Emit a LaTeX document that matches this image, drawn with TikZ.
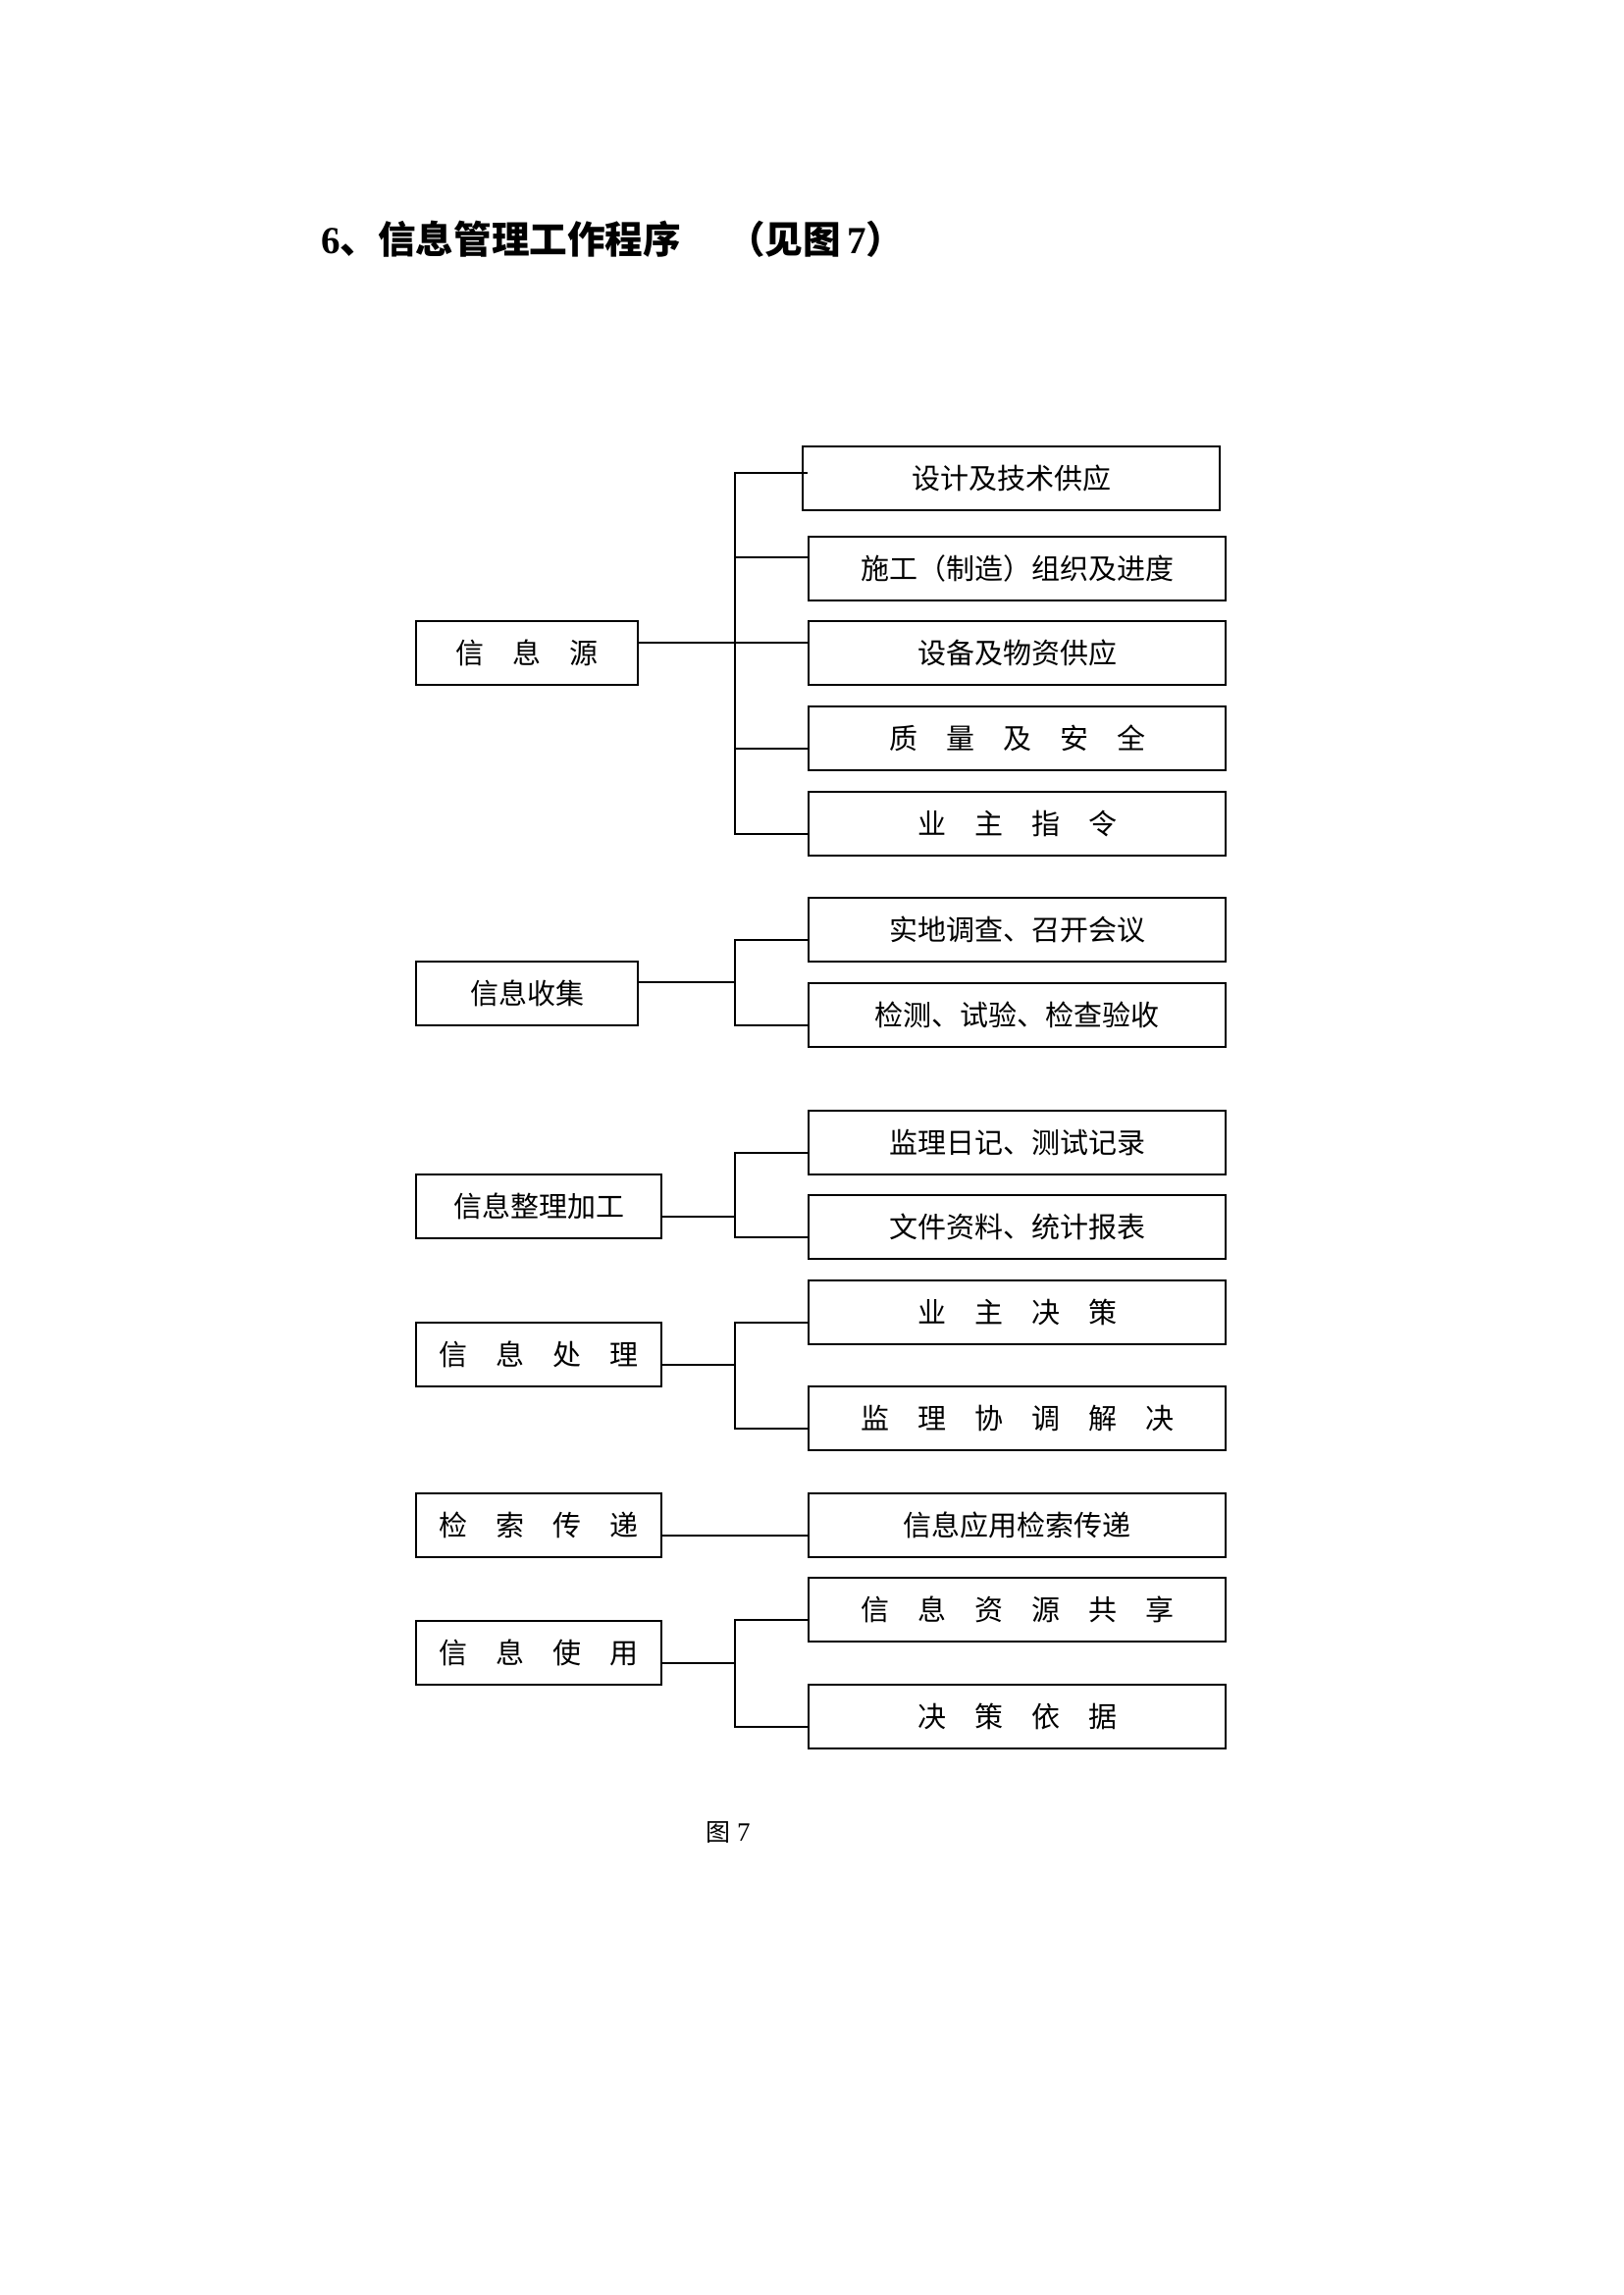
\documentclass[tikz,border=0pt]{standalone}
\usepackage{fontspec}
\newfontfamily\cjkfont{Noto Sans CJK SC}
\newfontfamily\latserif{Liberation Serif}
\newcommand\boxfont{\cjkfont\fontsize{29pt}{29pt}\selectfont}
\newcommand\ttlcjk{\cjkfont\fontsize{38.6pt}{38.6pt}\selectfont}
\newcommand\ttllat{\latserif\fontsize{39pt}{39pt}\selectfont}
\begin{document}
\begin{tikzpicture}[x=1pt,y=-1pt,
  box/.style={draw, line width=2pt, inner sep=0pt, minimum height=65pt, font=\boxfont},
  lbox/.style={box, minimum width=226pt},
  wbox/.style={box, minimum width=250pt},
  rbox/.style={box, minimum width=425pt},
  link/.style={line width=2pt, line join=miter}]
\useasboundingbox[fill=white] (0,0) rectangle (1654,2339);

% title
\node[anchor=west, inner sep=0pt, font=\bfseries] (title) at (327,244)
  {\ttllat 6\ttlcjk 、信息管理工作程序};
\node[anchor=west, inner sep=0pt, font=\bfseries] (titleref) at (741,244)
  {\ttlcjk （见图\hspace{6pt}\ttllat 7\ttlcjk ）};

% left boxes
\node[lbox] (L1) at (537,665.5) {信　息　源};
\node[lbox] (L2) at (537,1012.5) {信息收集};
\node[wbox] (L3) at (549,1229) {信息整理加工};
\node[wbox] (L4) at (549,1380.5) {信　息　处　理};
\node[wbox] (L5) at (549,1554) {检　索　传　递};
\node[wbox] (L6) at (549,1684) {信　息　使　用};

% right boxes
\node[rbox] (R1) at (1030.5,487) {设计及技术供应};
\node[rbox] (R2) at (1036.5,579.5) {施工（制造）组织及进度};
\node[rbox] (R3) at (1036.5,665.5) {设备及物资供应};
\node[rbox] (R4) at (1036.5,752.5) {质　量　及　安　全};
\node[rbox] (R5) at (1036.5,839.5) {业　主　指　令};
\node[rbox] (R6) at (1036.5,947.5) {实地调查、召开会议};
\node[rbox] (R7) at (1036.5,1034.5) {检测、试验、检查验收};
\node[rbox] (R8) at (1036.5,1164.5) {监理日记、测试记录};
\node[rbox] (R9) at (1036.5,1250.5) {文件资料、统计报表};
\node[rbox] (R10) at (1036.5,1337.5) {业　主　决　策};
\node[rbox] (R11) at (1036.5,1445.5) {监　理　协　调　解　决};
\node[rbox] (R12) at (1036.5,1554) {信息应用检索传递};
\node[rbox] (R13) at (1036.5,1640.5) {信　息　资　源　共　享};
\node[rbox] (R14) at (1036.5,1749) {决　策　依　据};

% caption
\node[anchor=west, inner sep=0pt] (cap) at (719,1868)
  {\cjkfont\fontsize{25pt}{25pt}\selectfont 图\hspace{7pt}\latserif\fontsize{27pt}{27pt}\selectfont 7};

% junction coordinates
\coordinate (g1a) at (749,482);
\coordinate (g1b) at (749,568);
\coordinate (g1c) at (749,655);
\coordinate (g1d) at (749,763);
\coordinate (g1e) at (749,850);
\coordinate (g2a) at (749,958);
\coordinate (g2m) at (749,1001);
\coordinate (g2b) at (749,1045);
\coordinate (g3a) at (749,1175);
\coordinate (g3m) at (749,1240);
\coordinate (g3b) at (749,1261);
\coordinate (g4a) at (749,1348);
\coordinate (g4m) at (749,1391);
\coordinate (g4b) at (749,1456);
\coordinate (g5) at (749,1565);
\coordinate (g6a) at (749,1651);
\coordinate (g6m) at (749,1695);
\coordinate (g6b) at (749,1760);

% group 1
\draw[link] ([xshift=6pt]R1.west |- g1a) -- (g1a) -- (g1e) -- (R5.west |- g1e);
\draw[link] (g1b) -- (R2.west |- g1b);
\draw[link] (g1d) -- (R4.west |- g1d);
\draw[link] (L1.east |- g1c) -- (R3.west |- g1c);
% group 2
\draw[link] (R6.west |- g2a) -- (g2a) -- (g2b) -- (R7.west |- g2b);
\draw[link] (L2.east |- g2m) -- (g2m);
% group 3
\draw[link] (R8.west |- g3a) -- (g3a) -- (g3b) -- (R9.west |- g3b);
\draw[link] (L3.east |- g3m) -- (g3m);
% group 4
\draw[link] (R10.west |- g4a) -- (g4a) -- (g4b) -- (R11.west |- g4b);
\draw[link] (L4.east |- g4m) -- (g4m);
% group 5
\draw[link] (L5.east |- g5) -- (R12.west |- g5);
% group 6
\draw[link] (R13.west |- g6a) -- (g6a) -- (g6b) -- (R14.west |- g6b);
\draw[link] (L6.east |- g6m) -- (g6m);
\end{tikzpicture}
\end{document}
